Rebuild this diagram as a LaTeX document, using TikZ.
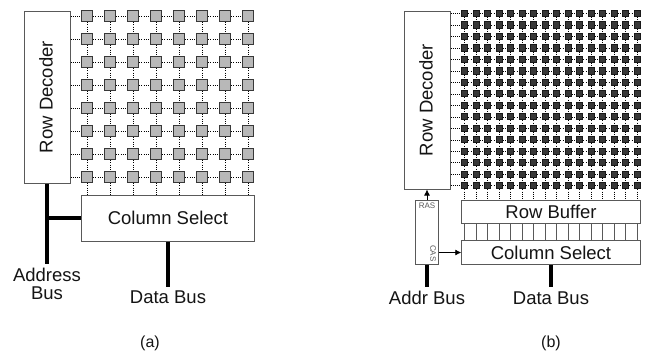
\documentclass[tikz,border=0pt]{standalone}
\usepackage{fontspec}
\setmainfont{Liberation Sans}
\usetikzlibrary{arrows.meta}
\definecolor{edge}{gray}{0.35}
\tikzset{
  x=1bp,y=-1bp,
  box/.style={draw=edge,line width=1bp,fill=white,inner sep=0pt,minimum width=#1},
  lab/.style={font=\fontsize{18.5bp}{18bp}\selectfont,text=black!92,inner sep=0pt,align=center},
  captiontext/.style={font=\fontsize{16bp}{16bp}\selectfont,text=black!92,inner sep=0pt},
  bigcell/.style={draw=black!78,line width=1bp,fill=black!28,minimum size=11.5bp,inner sep=0pt},
  smallcell/.style={draw=black!90,line width=1bp,fill=black!78,minimum size=6.2bp,inner sep=0pt},
  wire/.style={dash pattern=on 1bp off 1.2bp,line width=0.55bp,black},
  bus/.style={line width=4bp,black},
  tiny/.style={font=\fontsize{8bp}{8bp}\selectfont,text=black!65,inner sep=0pt},
  sig/.style={line width=0.8bp,black,-{Latex[length=6bp,width=6bp]}},
}
\begin{document}
\begin{tikzpicture}
\useasboundingbox (0,0) rectangle (647,354);
% ---- panel (a)
\node[box=46bp,minimum height=172bp] (decA) at (47,97) {};
\node[lab,rotate=90] (decAt) at (46,97) {Row Decoder};
\node[box=173bp,minimum height=46bp] (colA) at (168,218) {};
\node[lab] (colAt) at (168,218) {Column Select};
\foreach \r in {1,...,8}\foreach \c in {1,...,8}
  \node[bigcell] (a-\r-\c) at ({87+23*(\c-1)},{16+23*(\r-1)}) {};
\foreach \r in {1,...,8}{
  \draw[wire] (decA.east |- a-\r-1) -- (a-\r-1);
  \foreach \c [remember=\c as \p (initially 1)] in {2,...,8} \draw[wire] (a-\r-\p) -- (a-\r-\c);
}
\foreach \c in {1,...,8}{
  \foreach \r [remember=\r as \p (initially 1)] in {2,...,8} \draw[wire] (a-\p-\c) -- (a-\r-\c);
  \draw[wire] (a-8-\c) -- (a-8-\c |- colA.north);
}
\coordinate (addrEnd) at (47,264);
\coordinate (dataEndA) at (168,287);
\draw[bus] (decA.south) -- (addrEnd);
\draw[bus] (decA.south |- colA.west) -- (colA.west);
\draw[bus] (colA.south) -- (dataEndA);
\node[lab] (addrT) at (47,284) {Address\\Bus};
\node[lab] (dataA) at (168,297) {Data Bus};
\node[captiontext] (capA) at (150,343) {(a)};
% ---- panel (b)
\node[box=46bp,minimum height=178bp] (decB) at (427,100) {};
\node[lab,rotate=90] (decBt) at (426,100) {Row Decoder};
\node[box=23bp,minimum height=63.5bp] (ctl) at (427,232.5) {};
\node[tiny,anchor=north] (ras) at (427,202.5) {RAS};
\node[tiny,rotate=-90,anchor=west] (cas) at (433,245) {CAS};
\node[box=178.5bp,minimum height=22.5bp] (buf) at (551,212) {};
\node[lab] (bufT) at (551,212) {Row Buffer};
\node[box=178.5bp,minimum height=23.5bp] (colB) at (551,252.5) {};
\node[lab] (colBT) at (551,252.5) {Column Select};
\foreach \r in {1,...,16}\foreach \c in {1,...,16}
  \node[smallcell] (b-\r-\c) at ({464.7+11.5*(\c-1)},{13.5+11.48*(\r-1)}) {};
\foreach \r in {1,...,16}{
  \draw[wire] (decB.east |- b-\r-1) -- (b-\r-1);
  \foreach \c [remember=\c as \p (initially 1)] in {2,...,16} \draw[wire] (b-\r-\p) -- (b-\r-\c);
}
\foreach \c in {1,...,16}{
  \foreach \r [remember=\r as \p (initially 1)] in {2,...,16} \draw[wire] (b-\p-\c) -- (b-\r-\c);
  \draw[wire] (b-16-\c) -- (b-16-\c |- buf.north);
  \draw[edge,line width=0.8bp] (b-16-\c |- buf.south) -- (b-16-\c |- colB.north);
}
\draw[sig] (ctl.north) -- (decB.south);
\draw[sig] (ctl.east |- colB.west) -- (colB.west);
\coordinate (addrEndB) at (427,287);
\coordinate (dataEndB) at (551,287);
\draw[bus] (ctl.south) -- (addrEndB);
\draw[bus] (colB.south) -- (dataEndB);
\node[lab] (addrB) at (427,298) {Addr Bus};
\node[lab] (dataB) at (551,298) {Data Bus};
\node[captiontext] (capB) at (551,343) {(b)};
\end{tikzpicture}
\end{document}
